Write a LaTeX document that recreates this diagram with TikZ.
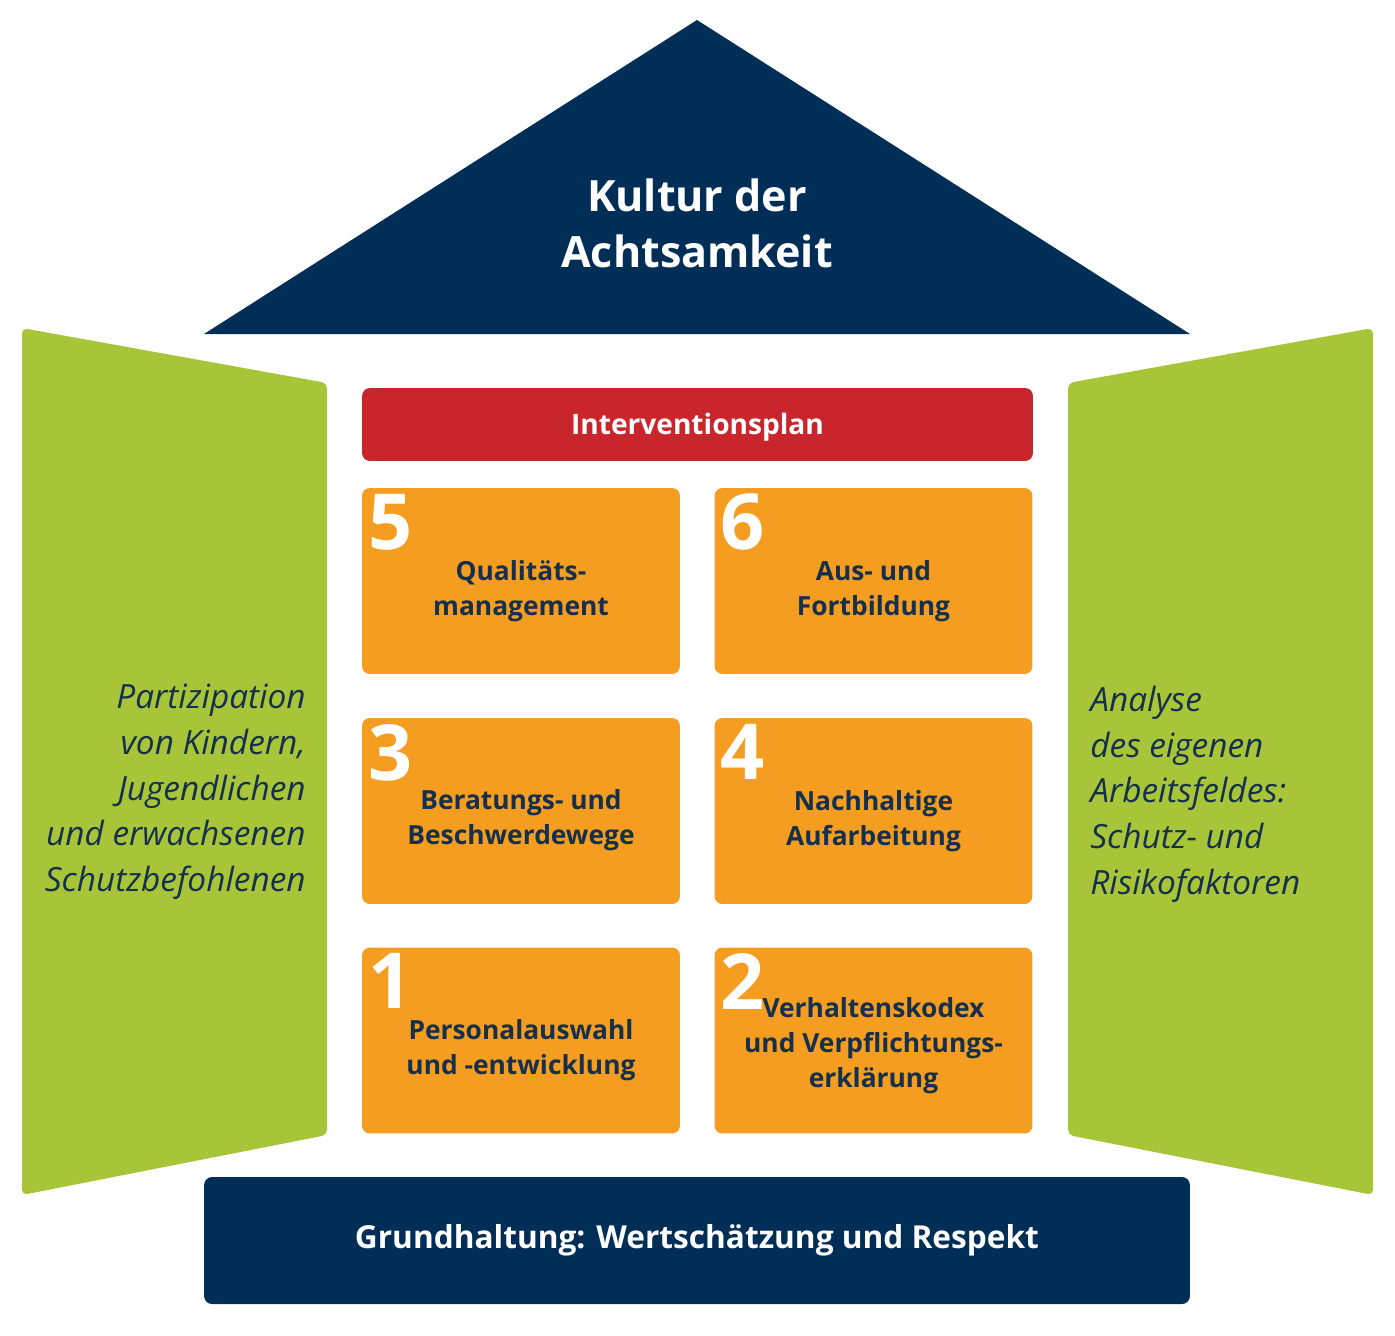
\documentclass[tikz,border=0pt]{standalone}
\usepackage{fontspec}
\setmainfont{Open Sans}
\usepackage{tikz}
\usetikzlibrary{positioning,calc}

\definecolor{roofblue}{HTML}{002E57}
\definecolor{shuttergreen}{HTML}{A8C539}
\definecolor{planred}{HTML}{C9252C}
\definecolor{pillarorange}{HTML}{F59D21}
\definecolor{inktext}{HTML}{15304D}

\begin{document}
\begin{tikzpicture}[x=0.02cm,y=-0.02cm,
    pillar/.style={fill=pillarorange,rounded corners=4.5pt,minimum width=6.36cm,minimum height=3.72cm,inner sep=0pt},
    pillartext/.style={align=center,text=inktext,font=\bfseries\fontsize{15}{20}\selectfont},
    bignum/.style={text=white,font=\bfseries\fontsize{44}{44}\selectfont,inner sep=0pt},
    sidetext/.style={text=inktext,inner sep=0pt,font=\itshape\fontsize{19}{26}\selectfont}]
\useasboundingbox (0,0) rectangle (1395,1335);

% Roof
\fill[roofblue] (697,20) -- (1190,334) -- (204,334) -- cycle;
\node[align=center,text=white,font=\bfseries\fontsize{24.5}{32}\selectfont] (roof) at (697,223) {Kultur der\\Achtsamkeit};

% Shutters
\fill[shuttergreen,rounded corners=3pt] (22,328) -- (327,383) -- (327,1135) -- (22,1195) -- cycle;
\fill[shuttergreen,rounded corners=3pt] (1373,328) -- (1068,383) -- (1068,1135) -- (1373,1195) -- cycle;
\node[sidetext,align=right,anchor=east] (left) at (306,792)
    {Partizipation\\von Kindern,\\Jugendlichen\\und erwachsenen\\Schutzbefohlenen};
\node[sidetext,align=left,anchor=west] (right) at (1090,794)
    {Analyse\\des eigenen\\Arbeitsfeldes:\\Schutz- und\\Risikofaktoren};

% Interventionsplan
\node[fill=planred,rounded corners=4.5pt,minimum width=13.42cm,minimum height=1.46cm,
      text=white,font=\bfseries\fontsize{16}{20}\selectfont] (plan) at (697.5,424.5) {};
\node[text=white,font=\bfseries\fontsize{16}{20}\selectfont] (plantext) at ($(plan.center)+(0,3)$) {Interventionsplan};

% Pillars
\foreach \n/\x/\y/\dy/\txt in {5/521/581/10/{Qualitäts-\\management},
                             6/873.5/581/10/{Aus- und\\Fortbildung},
                             3/521/811/9/{Beratungs- und\\Beschwerdewege},
                             4/873.5/811/10/{Nachhaltige\\Aufarbeitung},
                             1/521/1040.5/10/{Personalauswahl\\und -entwicklung},
                             2/873.5/1040.5/5/{Verhaltenskodex\\und Verpflichtungs-\\erklärung}} {
    \node[pillar] (p\n) at (\x,\y) {};
    \node[pillartext] (t\n) at ($(p\n.center)+(0,\dy)$) {\txt};
    \node[bignum,anchor=north west] (n\n) at ($(p\n.north west)+(6,6)$) {\n};
}

% Base
\node[fill=roofblue,rounded corners=4.5pt,minimum width=19.72cm,minimum height=2.54cm] (base) at (697,1240.5) {};
\node[text=white,font=\bfseries\fontsize{18}{24}\selectfont] (basetext) at (base.center)
    {Grundhaltung: Wertschätzung und Respekt};
\end{tikzpicture}
\end{document}
